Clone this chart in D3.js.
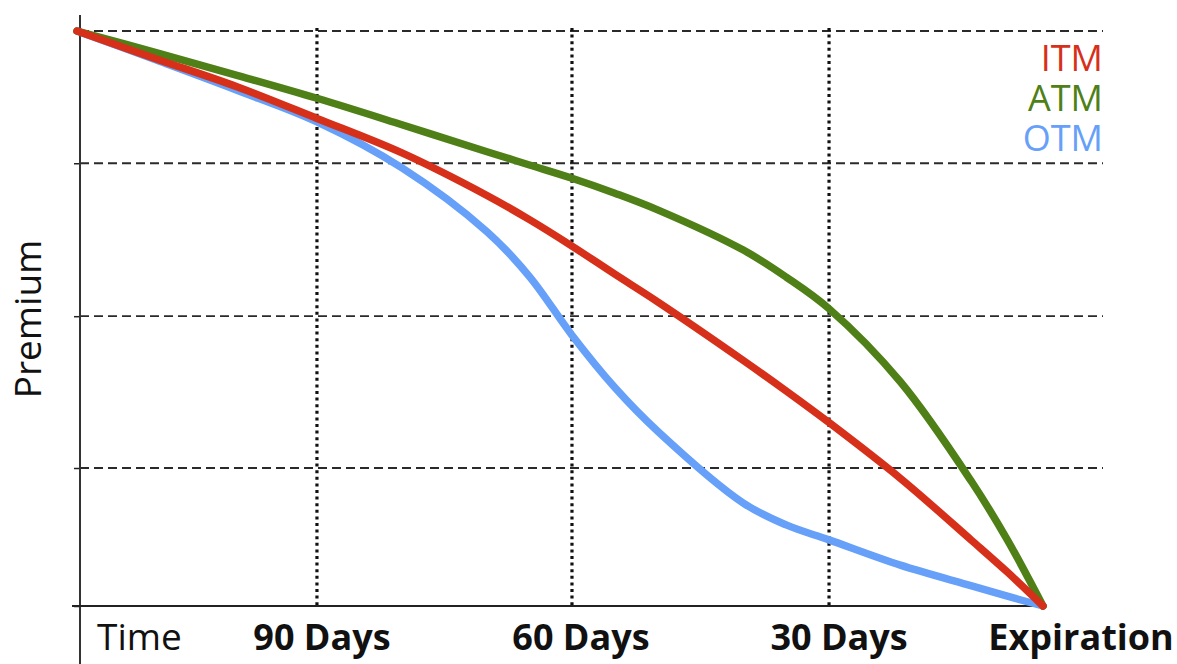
<!DOCTYPE html>
<html>
<head>
<meta charset="utf-8">
<script src="https://cdn.jsdelivr.net/npm/d3@7"></script>
<style>
  html, body { margin: 0; padding: 0; background: #fff; }
  svg { display: block; font-family: "Open Sans", "Noto Sans", sans-serif; }
</style>
</head>
<body>
<svg id="chart" width="1177" height="664"></svg>
<script>
// ---- data ----
const days = [120, 110, 100, 90, 80, 70, 65, 60, 55, 50, 40, 35, 30, 20, 10, 5, 0];
const itm  = [100, 95.1, 90.3, 84.8, 78.8, 71.4, 67.2, 62.6, 57.7, 52.9, 42.7, 37.4, 31.9, 22.2, 11.4, 5.9, 0];
const atm  = [100, 96.2, 92.3, 88.3, 83.7, 79.0, 76.7, 74.4, 71.8, 68.9, 61.9, 57.2, 51.7, 39.0, 21.6, 11.5, 0];
const otm  = [100, 94.9, 89.7, 84.2, 76.2, 65.1, 57.3, 47.1, 38.0, 30.4, 17.9, 14.1, 11.5, 7.1, 3.5, 1.7, 0];
const seriesNames = ["ITM", "ATM", "OTM"];
const seriesColors = ["#d7301a", "#4f7f17", "#66a0f8"];
const xTickDays = [90, 60, 30, 0];
const xTickLabels = ["90 Days", "60 Days", "30 Days", "Expiration"];
const yGridValues = [24, 50.4, 77, 100];
const xDomainStops = [120, 90, 60, 30, 0];

// ---- layout ----
const plotLeft = 77, plotRight = 1043, plotTop = 31, plotBottom = 606;
const gridRight = 1103;
const axisX = 80;
const stopFractions = [0, 0.2484, 0.5124, 0.7785, 1];

const svg = d3.select("#chart");
const x = d3.scaleLinear()
  .domain(xDomainStops)
  .range(stopFractions.map(f => plotLeft + f * (plotRight - plotLeft)));
const y = d3.scaleLinear().domain([0, 100]).range([plotBottom, plotTop]);

// horizontal dashed gridlines
svg.append("g").selectAll("line").data(yGridValues).join("line")
  .attr("x1", axisX).attr("x2", gridRight)
  .attr("y1", d => y(d)).attr("y2", d => y(d))
  .attr("stroke", "#2a2a2a").attr("stroke-width", 1.8)
  .attr("stroke-dasharray", "9,5");

// vertical dotted gridlines
svg.append("g").selectAll("line").data(xTickDays.filter(d => d > 0)).join("line")
  .attr("x1", d => x(d)).attr("x2", d => x(d))
  .attr("y1", y(100) - 3).attr("y2", plotBottom)
  .attr("stroke", "#111").attr("stroke-width", 3.2)
  .attr("stroke-dasharray", "3,3.6");

// y axis ticks (left)
const yAxis = d3.axisLeft(y).tickValues([0].concat(yGridValues)).tickSize(6).tickFormat("");
const gy = svg.append("g").attr("transform", `translate(${axisX},0)`).call(yAxis);
gy.select(".domain").remove();
gy.selectAll(".tick line").attr("stroke", "#222").attr("stroke-width", 1.5);

// axis lines
svg.append("line").attr("x1", axisX).attr("x2", axisX).attr("y1", 15).attr("y2", 664)
  .attr("stroke", "#333").attr("stroke-width", 2);
svg.append("line").attr("x1", 72).attr("x2", x(0)).attr("y1", plotBottom).attr("y2", plotBottom)
  .attr("stroke", "#222").attr("stroke-width", 1.8);

// lines
const line = d3.line().x((d, i) => x(days[i])).y(d => y(d)).curve(d3.curveCatmullRom.alpha(0.5));
const series = [itm, atm, otm];
const drawOrder = [2, 1, 0];
svg.append("g").selectAll("path").data(drawOrder).join("path")
  .attr("d", i => line(series[i]))
  .attr("fill", "none")
  .attr("stroke", i => seriesColors[i])
  .attr("stroke-width", 7.5)
  .attr("stroke-linecap", "round")
  .attr("stroke-linejoin", "round");

// x tick labels
const labelDx = [5, 9, 10, 38];
svg.append("g").selectAll("text").data(xTickDays).join("text")
  .attr("x", (d, i) => x(d) + labelDx[i])
  .attr("y", 650)
  .attr("text-anchor", "middle")
  .attr("font-size", 36)
  .attr("font-weight", 700)
  .attr("fill", "#111")
  .text((d, i) => xTickLabels[i]);

svg.append("text").attr("x", 97).attr("y", 650)
  .attr("font-size", 37).attr("fill", "#111").text("Time");

// y axis title
svg.append("text")
  .attr("transform", `translate(41,${(238 + 400) / 2}) rotate(-90)`)
  .attr("text-anchor", "middle")
  .attr("font-size", 37).attr("fill", "#111").text("Premium");

// legend
svg.append("g").selectAll("text").data(seriesNames).join("text")
  .attr("x", gridRight)
  .attr("y", (d, i) => 71 + i * 40)
  .attr("text-anchor", "end")
  .attr("font-size", 36)
  .attr("fill", (d, i) => seriesColors[i])
  .text(d => d);
</script>
</body>
</html>
